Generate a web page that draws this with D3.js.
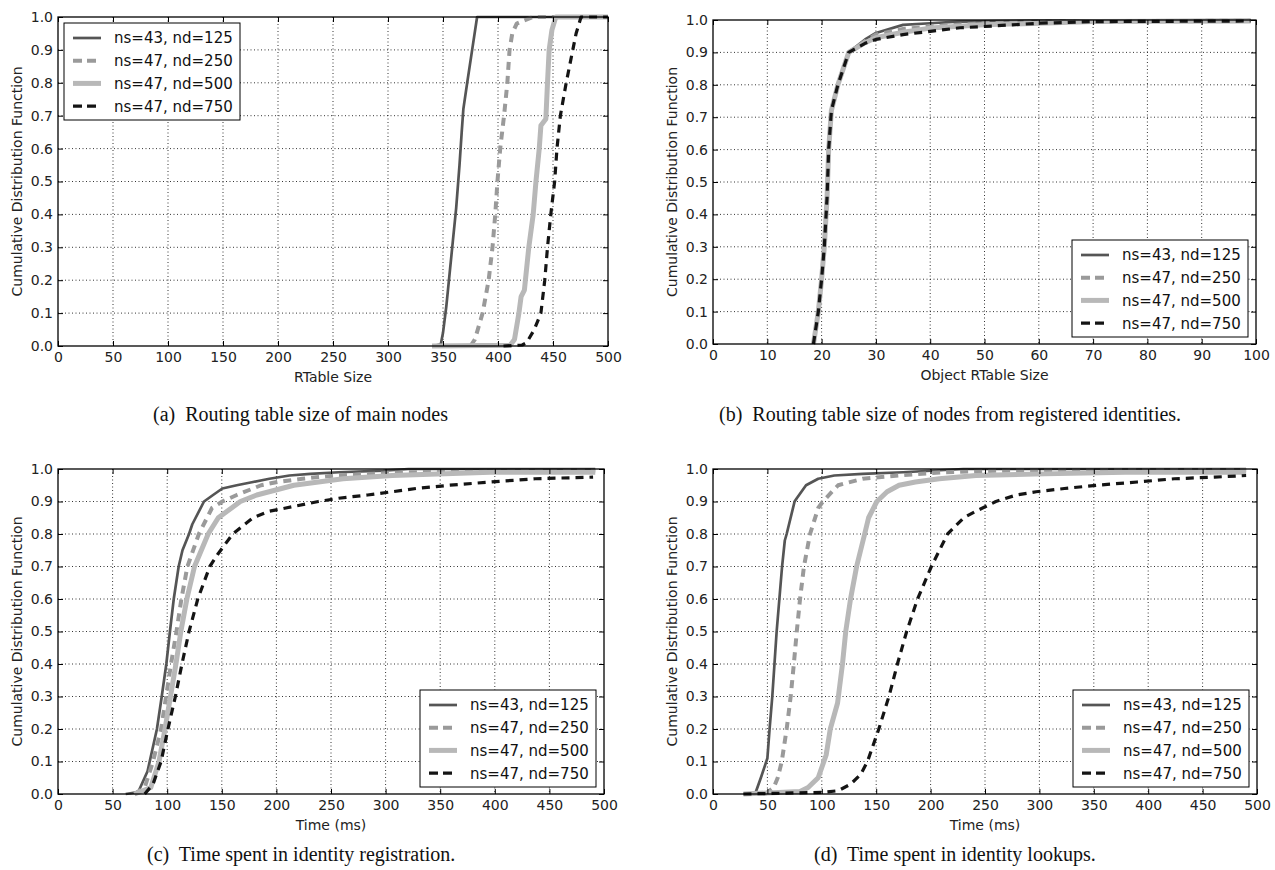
<!DOCTYPE html>
<html>
<head>
<meta charset="utf-8">
<script src="https://cdn.jsdelivr.net/npm/d3@7"></script>
<style>
  body { margin: 0; background: #fff; }
  svg { display: block; }
  .tick text { font-family: "DejaVu Sans", sans-serif; font-size: 14px; fill: #222; }
  .lbl { font-family: "DejaVu Sans", sans-serif; font-size: 14px; fill: #222; }
  .leg { font-family: "DejaVu Sans", sans-serif; font-size: 15px; fill: #111; }
  .cap { font-family: "Liberation Serif", "Times New Roman", serif; font-size: 20px; fill: #111; white-space: pre; }
</style>
</head>
<body>
<svg id="chart" width="1275" height="870"></svg>
<script>
// legend labels (same for every panel)
const seriesLabels = ["ns=43, nd=125", "ns=47, nd=250", "ns=47, nd=500", "ns=47, nd=750"];
const yTicks = [0, 0.1, 0.2, 0.3, 0.4, 0.5, 0.6, 0.7, 0.8, 0.9, 1.0];
const xTicks500 = [0, 50, 100, 150, 200, 250, 300, 350, 400, 450, 500];
const xTicks100 = [0, 10, 20, 30, 40, 50, 60, 70, 80, 90, 100];

// (a) routing table size of main nodes
const a125 = [[341,0],[348,0.005],[350,0.04],[353,0.12],[356,0.22],[359,0.32],[362,0.42],[365,0.55],[367,0.65],[368.5,0.72],[372,0.8],[376.5,0.9],[381,1],[500,1]];
const a250 = [[375,0],[379,0.02],[386,0.1],[391.5,0.2],[395,0.3],[397.5,0.4],[399.5,0.5],[402,0.6],[405.5,0.7],[408.5,0.8],[410.5,0.9],[413,0.95],[417,0.98],[424,0.99],[432,1],[500,1]];
const a500 = [[340,0],[411,0.002],[415,0.02],[419,0.1],[421,0.15],[424,0.17],[428,0.3],[432,0.4],[434.5,0.5],[437.5,0.6],[439,0.67],[443.5,0.69],[445,0.8],[446.5,0.9],[449,0.96],[452.5,1],[500,1]];
const a750 = [[405,0],[422,0.003],[426,0.01],[433,0.05],[439,0.1],[442.5,0.2],[445,0.3],[448,0.4],[451.5,0.5],[453.6,0.6],[456.7,0.7],[462,0.8],[468,0.9],[471,0.95],[475.5,1],[500,1]];

// (b) routing table size of nodes from registered identities
const b125 = [[18.5,0],[19.4,0.1],[20,0.2],[20.5,0.3],[21,0.45],[21.3,0.6],[21.8,0.73],[23,0.8],[25,0.9],[28,0.94],[30,0.96],[35,0.985],[40,0.99],[45,0.995],[60,0.998],[99,1]];
const b250 = [[18.5,0],[19.4,0.1],[20,0.2],[20.5,0.3],[21,0.45],[21.3,0.6],[21.8,0.72],[23,0.8],[25,0.9],[28,0.935],[30,0.955],[35,0.972],[40,0.98],[50,0.99],[60,0.995],[99,0.998]];
const b500 = [[18.5,0],[19.4,0.1],[20,0.2],[20.5,0.3],[21,0.45],[21.3,0.6],[21.8,0.72],[23,0.8],[25,0.9],[28,0.93],[30,0.945],[35,0.962],[40,0.975],[50,0.985],[60,0.99],[70,0.995],[99,0.997]];
const b750 = [[18.5,0],[19.4,0.1],[20,0.2],[20.5,0.3],[21,0.45],[21.3,0.6],[21.8,0.72],[23,0.8],[25,0.9],[28,0.928],[30,0.94],[35,0.955],[40,0.965],[45.5,0.976],[50,0.98],[60,0.99],[70,0.995],[99,0.997]];

// (c) time spent in identity registration
const c125 = [[62,0],[72,0.005],[74,0.01],[82,0.07],[90.6,0.2],[95,0.3],[99.2,0.4],[102.5,0.5],[106,0.6],[110.5,0.7],[114,0.75],[120,0.8],[123,0.83],[133.7,0.9],[142,0.92],[150.5,0.94],[163.7,0.95],[178.6,0.96],[193.6,0.97],[212,0.98],[231,0.985],[257,0.99],[298,0.995],[321,1],[492,1]];
const c250 = [[70,0],[79.4,0.02],[87,0.1],[94.4,0.2],[99,0.3],[103.5,0.4],[108.5,0.5],[113,0.6],[118.5,0.7],[129,0.8],[141,0.88],[150.5,0.9],[163.7,0.92],[186,0.95],[201,0.96],[223.6,0.97],[253.6,0.98],[321,0.99],[492,0.995]];
const c500 = [[70,0],[85,0.02],[92.5,0.1],[98,0.2],[103,0.3],[108,0.4],[112.5,0.5],[118,0.6],[125,0.7],[137.5,0.8],[146.8,0.85],[167,0.9],[182,0.92],[216,0.95],[238.5,0.96],[261,0.97],[306,0.98],[396,0.99],[492,0.99]];
const c750 = [[79.4,0],[87,0.03],[94.4,0.1],[100.7,0.2],[107.5,0.3],[113.5,0.4],[120,0.5],[128,0.6],[139,0.7],[146.8,0.74],[160,0.8],[167.4,0.82],[178.6,0.85],[193.6,0.87],[208.6,0.88],[238.5,0.9],[257,0.91],[283.5,0.92],[306,0.93],[328,0.94],[358.4,0.95],[396,0.96],[437,0.97],[490,0.975]];

// (d) time spent in identity lookups
const d125 = [[28,0],[39,0.003],[44,0.05],[50,0.11],[52,0.2],[54.5,0.3],[56.5,0.4],[58.5,0.5],[61,0.6],[63.5,0.7],[66,0.78],[67.7,0.8],[75,0.9],[77,0.91],[85.5,0.95],[96.7,0.97],[111.5,0.98],[137.5,0.985],[174.7,0.99],[230,1],[490,1]];
const d250 = [[48,0],[55.8,0.02],[59.5,0.05],[63.2,0.1],[67.7,0.2],[71.4,0.3],[74.3,0.4],[77,0.5],[80,0.6],[83.6,0.7],[89.2,0.8],[96.7,0.88],[101,0.9],[115,0.95],[137.5,0.97],[171,0.98],[212,0.99],[268,0.995],[490,0.997]];
const d500 = [[28,0],[80,0.008],[87.4,0.02],[96.7,0.05],[104,0.12],[107.8,0.2],[114.5,0.28],[119,0.4],[122,0.5],[126.4,0.6],[132,0.7],[139.4,0.8],[143,0.85],[150.6,0.9],[160,0.93],[171,0.95],[186,0.96],[208,0.97],[241.6,0.98],[305,0.985],[379,0.99],[490,0.99]];
const d750 = [[28,0],[100,0.005],[115,0.01],[126.4,0.03],[135.7,0.06],[142,0.1],[152.4,0.2],[161.7,0.3],[169.5,0.4],[178,0.5],[188,0.6],[200.7,0.7],[215.6,0.8],[230.5,0.85],[241.6,0.87],[260,0.9],[278.8,0.92],[297,0.93],[323,0.94],[353,0.95],[390,0.96],[424,0.97],[461,0.975],[490,0.98]];

// line styles, in legend / drawing order
const styles = [
    { color: "#555555", width: 2.7, dash: null },
    { color: "#9a9a9a", width: 4, dash: "8,6" },
    { color: "#b8b8b8", width: 5, dash: null },
    { color: "#141414", width: 3.2, dash: "8,6" }
];

const panels = [
    { left: 58, right: 608, top: 17, bottom: 346, xMax: 500, xTicks: xTicks500, series: [a125, a250, a500, a750],
      xLabel: "RTable Size", legend: "tl", caption: "(a)  Routing table size of main nodes", capX: 153, capY: 421 },
    { left: 713, right: 1256, top: 20, bottom: 344, xMax: 100, xTicks: xTicks100, series: [b125, b250, b500, b750],
      xLabel: "Object RTable Size", legend: "br", caption: "(b)  Routing table size of nodes from registered identities.", capX: 719, capY: 421 },
    { left: 58, right: 604, top: 469, bottom: 794, xMax: 500, xTicks: xTicks500, series: [c125, c250, c500, c750],
      xLabel: "Time (ms)", legend: "br", caption: "(c)  Time spent in identity registration.", capX: 147, capY: 861 },
    { left: 713, right: 1257, top: 469, bottom: 794, xMax: 500, xTicks: xTicks500, series: [d125, d250, d500, d750],
      xLabel: "Time (ms)", legend: "br", caption: "(d)  Time spent in identity lookups.", capX: 814, capY: 861 }
];

const svg = d3.select("#chart");
svg.append("rect").attr("width", 1275).attr("height", 870).attr("fill", "#fff");

panels.forEach(function (p) {
    const w = p.right - p.left;
    const h = p.bottom - p.top;
    const x = d3.scaleLinear().domain([0, p.xMax]).range([0, w]);
    const y = d3.scaleLinear().domain([0, 1]).range([h, 0]);

    const g = svg.append("g").attr("transform", `translate(${p.left},${p.top})`);

    // dotted grid
    g.selectAll(".vgrid").data(p.xTicks.slice(1, -1)).enter().append("line")
        .attr("x1", d => x(d)).attr("x2", d => x(d))
        .attr("y1", 0).attr("y2", h)
        .attr("stroke", "#000").attr("stroke-width", 0.8).attr("stroke-dasharray", "1,2.5");
    g.selectAll(".hgrid").data(yTicks.slice(1, -1)).enter().append("line")
        .attr("x1", 0).attr("x2", w)
        .attr("y1", d => y(d)).attr("y2", d => y(d))
        .attr("stroke", "#000").attr("stroke-width", 0.8).attr("stroke-dasharray", "1,2.5");

    // curves
    const line = d3.line().x(d => x(d[0])).y(d => y(d[1]));
    const clipId = "clip" + p.left + "_" + p.top;
    g.append("clipPath").attr("id", clipId).append("rect")
        .attr("x", -3).attr("y", -3).attr("width", w + 6).attr("height", h + 6);
    p.series.forEach(function (s, i) {
        g.append("path")
            .datum(s)
            .attr("d", line)
            .attr("clip-path", `url(#${clipId})`)
            .attr("fill", "none")
            .attr("stroke", styles[i].color)
            .attr("stroke-width", styles[i].width)
            .attr("stroke-dasharray", styles[i].dash)
            .attr("stroke-linejoin", "round");
    });

    // axes with inward ticks on all four sides
    const bottomAxis = d3.axisBottom(x).tickValues(p.xTicks).tickSizeInner(-5).tickSizeOuter(0).tickPadding(6).tickFormat(d3.format("d"));
    const topAxis = d3.axisTop(x).tickValues(p.xTicks).tickSizeInner(-5).tickSizeOuter(0).tickFormat("");
    const leftAxis = d3.axisLeft(y).tickValues(yTicks).tickSizeInner(-5).tickSizeOuter(0).tickPadding(5).tickFormat(d3.format(".1f"));
    const rightAxis = d3.axisRight(y).tickValues(yTicks).tickSizeInner(-5).tickSizeOuter(0).tickFormat("");

    g.append("g").attr("transform", `translate(0,${h})`).call(bottomAxis);
    g.append("g").call(topAxis);
    g.append("g").call(leftAxis);
    g.append("g").attr("transform", `translate(${w},0)`).call(rightAxis);
    g.selectAll(".domain").remove();
    g.selectAll(".tick line").attr("stroke", "#000").attr("stroke-width", 1);
    g.selectAll(".tick text").attr("fill", "#222");

    // frame
    g.append("rect").attr("width", w).attr("height", h)
        .attr("fill", "none").attr("stroke", "#000").attr("stroke-width", 1.3);

    // axis titles
    g.append("text").attr("class", "lbl")
        .attr("x", w / 2).attr("y", h + 36)
        .attr("text-anchor", "middle")
        .text(p.xLabel);
    g.append("text").attr("class", "lbl")
        .attr("transform", `translate(-41,${h / 2}) rotate(-90)`)
        .attr("text-anchor", "middle").attr("dy", "0.35em")
        .text("Cumulative Distribution Function");

    // legend
    const lw = 176, lh = 97;
    const lx = p.legend === "tl" ? 6 : w - 8 - lw;
    const ly = p.legend === "tl" ? 6 : h - 7 - lh;
    const leg = g.append("g").attr("transform", `translate(${lx},${ly})`);
    leg.append("rect").attr("width", lw).attr("height", lh)
        .attr("fill", "#fff").attr("stroke", "#000").attr("stroke-width", 1);
    seriesLabels.forEach(function (lab, i) {
        const cy = 15 + i * 22.7;
        leg.append("line")
            .attr("x1", 9).attr("x2", 37).attr("y1", cy).attr("y2", cy)
            .attr("stroke", styles[i].color)
            .attr("stroke-width", styles[i].width)
            .attr("stroke-dasharray", styles[i].dash ? "9,5" : null);
        leg.append("text").attr("class", "leg")
            .attr("x", 50).attr("y", cy).attr("dy", "0.36em")
            .text(lab);
    });

    // caption
    svg.append("text").attr("class", "cap")
        .attr("x", p.capX).attr("y", p.capY)
        .text(p.caption);
});
</script>
</body>
</html>
